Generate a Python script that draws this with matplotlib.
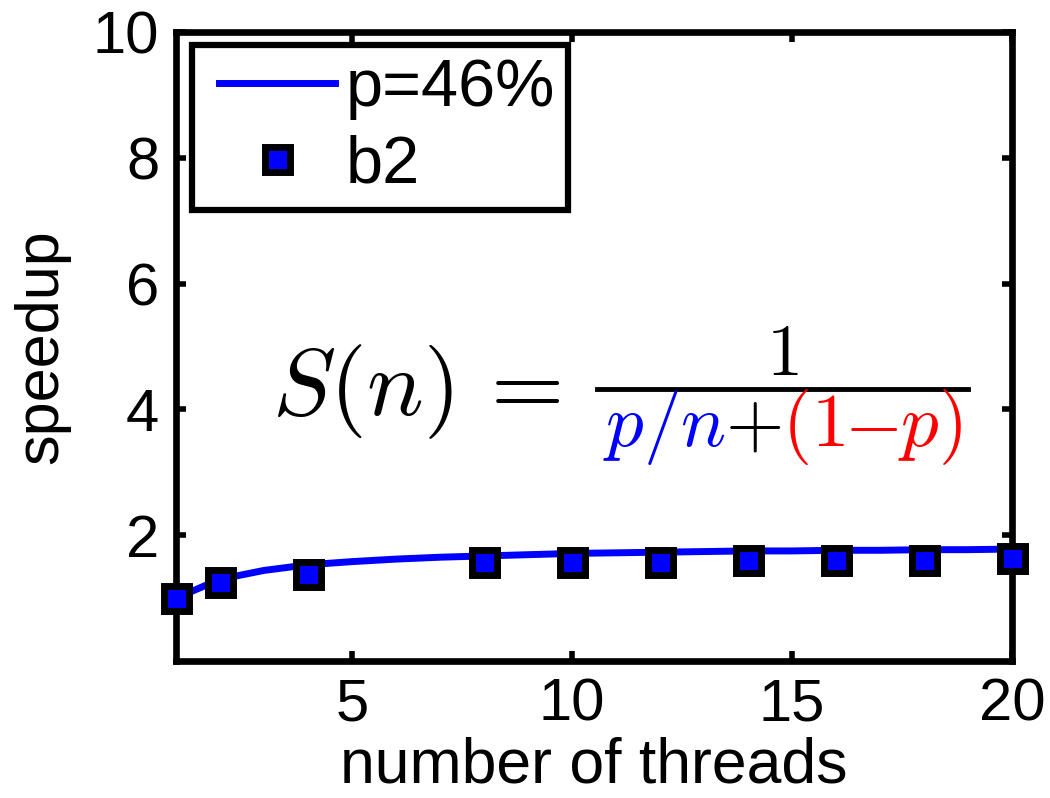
import matplotlib
matplotlib.use('Agg')
import matplotlib.pyplot as plt
from matplotlib.lines import Line2D
from matplotlib.legend_handler import HandlerLine2D

# Amdahl curve, p = 46%
threads_model = [1, 2, 3, 4, 5, 6, 7, 8, 9, 10, 11, 12, 13, 14, 15, 16, 17, 18, 19, 20]
speedup_model = [1.00, 1.30, 1.44, 1.53, 1.58, 1.62, 1.65, 1.67, 1.69, 1.71,
                 1.72, 1.73, 1.74, 1.75, 1.75, 1.76, 1.76, 1.77, 1.77, 1.78]

# measured b2
threads_b2 = [1, 2, 4, 8, 10, 12, 14, 16, 18, 20]
speedup_b2 = [1.00, 1.25, 1.39, 1.57, 1.58, 1.58, 1.61, 1.60, 1.61, 1.63]

x_ticks = [5, 10, 15, 20]
y_ticks = [2, 4, 6, 8, 10]

plt.rcParams['font.family'] = ['Liberation Sans', 'DejaVu Sans']
plt.rcParams['mathtext.fontset'] = 'cm'

W, H = 1050, 798
fig = plt.figure(figsize=(W / 100, H / 100), dpi=100)
ax = fig.add_axes([176 / W, 1 - 661 / H, (1012 - 176) / W, (661 - 32) / H])

ax.plot(threads_model, speedup_model, color='blue', lw=5, label='p=46%',
        clip_on=False, zorder=3)
ax.plot(threads_b2, speedup_b2, ls='none', marker='s', ms=18, mew=5,
        mfc='blue', mec='black', label='b2', clip_on=False, zorder=4)

ax.set_xlim(1, 20)
ax.set_ylim(0, 10)
ax.set_xticks(x_ticks)
ax.set_yticks(y_ticks)
ax.tick_params(direction='in', length=7, width=4, labelsize=43, pad=12,
               top=True, right=True)
for sp in ax.spines.values():
    sp.set_linewidth(4.8)
ax.set_xlabel('number of threads', fontsize=45, labelpad=3)
ax.set_ylabel('speedup', fontsize=44, labelpad=16)

leg = ax.legend(loc='upper left', bbox_to_anchor=(192 / W, 1 - 45 / H),
                bbox_transform=fig.transFigure, fontsize=48, fancybox=False,
                edgecolor='black', framealpha=1, handlelength=1.95,
                handletextpad=0.15, borderpad=0.2, labelspacing=0.21,
                borderaxespad=0,
                handler_map={Line2D: HandlerLine2D(xpad=0.2)})
leg.get_frame().set_linewidth(4.5)

# formula S(n) = 1 / (p/n + (1-p)), pieces coloured separately
fig.text(272 / W, 1 - 415 / H, r'$S(n)\,=$', fontsize=68, va='baseline')
bar_y = 1 - 389 / H
fig.add_artist(Line2D([597 / W, 968 / W], [bar_y, bar_y], color='black', lw=3.5,
                      transform=fig.transFigure))
fig.text(782 / W, 1 - 375 / H, r'$1$', fontsize=52, va='baseline', ha='center')

pieces = [(r'$p/n$', 'blue'), (r'$+$', 'black'), (r'$(1$', 'red'),
          (r'$-$', 'red'), (r'$p)$', 'red')]
texts = [fig.text(0, 1 - 446 / H, s, fontsize=54, color=c, va='baseline')
         for s, c in pieces]
fig.canvas.draw()
r = fig.canvas.get_renderer()
widths = [t.get_window_extent(r).width for t in texts]
x = (597 + 968) / 2 - sum(widths) / 2
for t, w in zip(texts, widths):
    t.set_x(x / W)
    x += w

fig.savefig('out.png', dpi=100)
